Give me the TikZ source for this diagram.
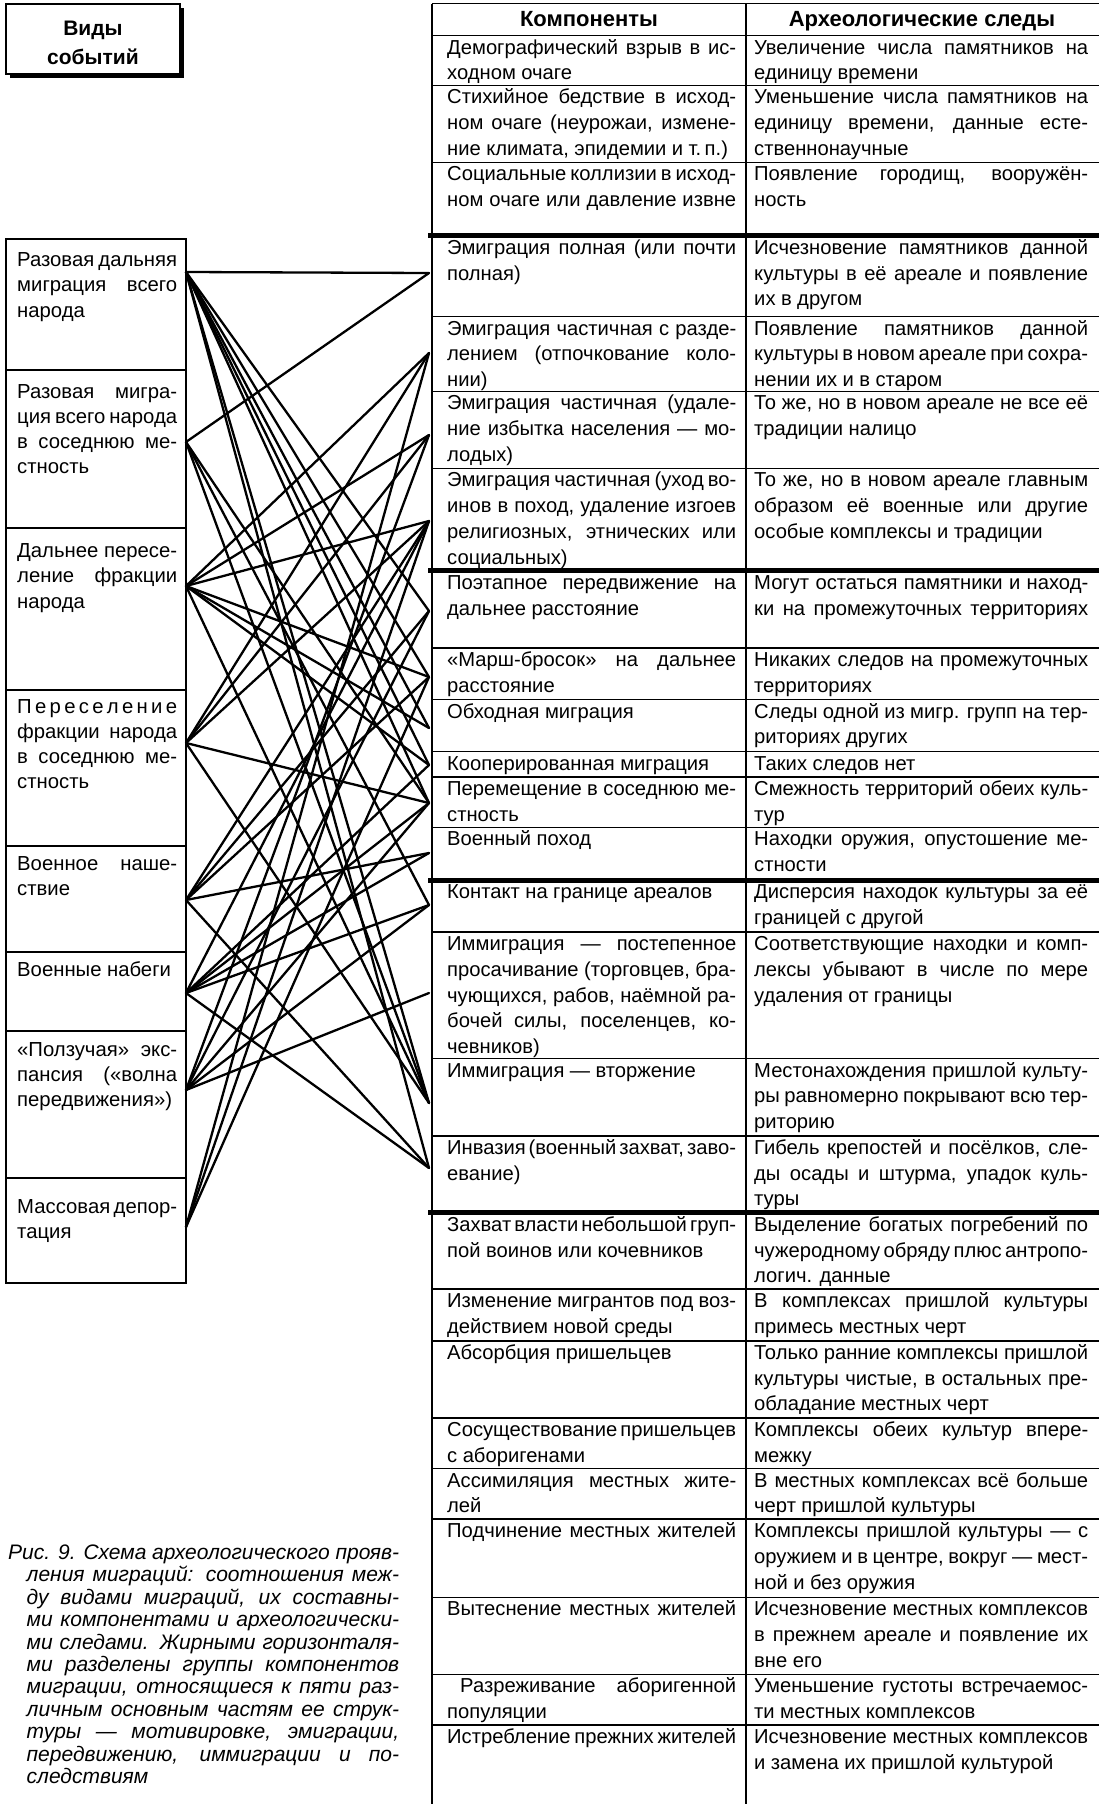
\documentclass[tikz,border=0pt]{standalone}
\usepackage{fontspec}
\setmainfont{Liberation Sans}
\usepackage{tikz}
\newcommand{\jl}[1]{\makebox[\linewidth][s]{#1}\\}
\newcommand{\fl}[1]{\makebox[\linewidth][s]{#1}}
\newcommand{\capl}[1]{\hspace*{18.5pt}\makebox[372.5pt][s]{#1}\\}
\newcommand{\kcell}[1]{\parbox[t]{289pt}{#1}}
\newcommand{\tcell}[1]{\parbox[t]{334pt}{#1}}
\newcommand{\vcell}[1]{\parbox[t]{160pt}{#1}}
\newcommand{\tightsp}{\spaceskip=.27em plus .6em minus .13em\relax}
\tikzset{
    vid box/.style={line width=1.3pt},
    vid text/.style={inner sep=0pt,anchor=base west,font=\fontsize{20.3}{25.3}\selectfont\tightsp},
    cell/.style={inner sep=0pt,anchor=base west,font=\fontsize{20.2}{25.7}\selectfont\tightsp},
    head/.style={inner sep=0pt,anchor=base,font=\fontsize{22}{26}\selectfont\bfseries},
    thin rule/.style={line width=1.4pt},
    thick rule/.style={line width=5pt},
    link/.style={line width=2.3pt,line cap=round}
}
\begin{document}
\begin{tikzpicture}[x=1pt,y=-1pt]
\useasboundingbox (0,0) rectangle (1099,1804);
% title box with shadow
\fill (10,8) rectangle (184,78);
\draw[fill=white,line width=1.5pt] (6,4) rectangle (180,74);
\node[inner sep=0pt,align=center,font=\fontsize{21}{28.5}\selectfont\bfseries] (vidy) at (93,43) {Виды\\событий};
% left boxes
\foreach \t/\b in {239/370,370/528,528/690,690/846,846/952,952/1031,1031/1178,1178/1283}
    \draw[vid box] (6,\t) rectangle (186,\b);
\node[vid text] (vid1) at (17,266.5) {\vcell{\jl{Разовая дальняя}\jl{миграция всего}народа}};
\node[vid text] (vid2) at (17,398) {\vcell{\jl{Разовая мигра-}\jl{ция всего народа}\jl{в соседнюю ме-}стность}};
\node[vid text] (vid3) at (17,557.5) {\vcell{\jl{Дальнее пересе-}\jl{ление фракции}народа}};
\node[vid text] (vid4) at (17,713) {\vcell{\jl{П\hfill е\hfill р\hfill е\hfill с\hfill е\hfill л\hfill е\hfill н\hfill и\hfill е}\jl{фракции народа}\jl{в соседнюю ме-}стность}};
\node[vid text] (vid5) at (17,870.5) {\vcell{\jl{Военное наше-}ствие}};
\node[vid text] (vid6) at (17,976.5) {\vcell{Военные набеги}};
\node[vid text] (vid7) at (17,1056) {\vcell{\jl{«Ползучая» экс-}\jl{пансия («волна}передвижения»)}};
\node[vid text] (vid8) at (17,1213.5) {\vcell{\jl{Массовая депор-}тация}};
% table rules
\foreach \y in {3.5,35.7,85.2,162.3,316.5,391.3,468.4,647.9,699.7,751.5,776.8,827.4,932.1,1058.7,1135.8,1288.9,1340.8,1417.9,1468.5,1519.1,1597.4,1674.4,1725.1}
    \draw[thin rule] (432,\y) -- (1099,\y);
\foreach \y in {235.9,570.8,880.4,1212.9}
    \draw[thick rule] (428,\y) -- (1099,\y);
\draw[thin rule] (432,3.5) -- (432,1804);
\draw[thin rule] (746,3.5) -- (746,1804);
\node[head] (komp) at (589,27) {Компоненты};
\node[head] (sledy) at (922,27) {Археологические следы};
% components and traces
\node[cell] (k1) at (447,54.2) {\kcell{\jl{Демографический взрыв в ис-}ходном очаге}};
\node[cell] (t1) at (754,54.2) {\tcell{\jl{Увеличение числа памятников на}единицу времени}};
\node[cell] (k2) at (447,103.7) {\kcell{\jl{Стихийное бедствие в исход-}\jl{ном очаге (неурожаи, измене-}ние климата, эпидемии и т.\,п.)}};
\node[cell] (t2) at (754,103.7) {\tcell{\jl{Уменьшение числа памятников на}\jl{единицу времени, данные есте-}ственнонаучные}};
\node[cell] (k3) at (447,180.8) {\kcell{\jl{Социальные коллизии в исход-}\fl{ном очаге или давление извне}}};
\node[cell] (t3) at (754,180.8) {\tcell{\jl{Появление городищ, вооружён-}ность}};
\node[cell] (k4) at (447,254.4) {\kcell{\jl{Эмиграция полная (или почти}полная)}};
\node[cell] (t4) at (754,254.4) {\tcell{\jl{Исчезновение памятников данной}\jl{культуры в её ареале и появление}их в другом}};
\node[cell] (k5) at (447,335.0) {\kcell{\jl{Эмиграция частичная с разде-}\jl{лением (отпочкование коло-}нии)}};
\node[cell] (t5) at (754,335.0) {\tcell{\jl{Появление памятников данной}\jl{культуры в новом ареале при сохра-}нении их и в старом}};
\node[cell] (k6) at (447,409.8) {\kcell{\jl{Эмиграция частичная (удале-}\jl{ние избытка населения — мо-}лодых)}};
\node[cell] (t6) at (754,409.8) {\tcell{\jl{То же, но в новом ареале не все её}традиции налицо}};
\node[cell] (k7) at (447,486.9) {\kcell{\jl{Эмиграция частичная (уход во-}\jl{инов в поход, удаление изгоев}\jl{религиозных, этнических или}социальных)}};
\node[cell] (t7) at (754,486.9) {\tcell{\jl{То же, но в новом ареале главным}\jl{образом её военные или другие}особые комплексы и традиции}};
\node[cell] (k8) at (447,589.3) {\kcell{\jl{Поэтапное передвижение на}дальнее расстояние}};
\node[cell] (t8) at (754,589.3) {\tcell{\jl{Могут остаться памятники и наход-}\fl{ки на промежуточных территориях}}};
\node[cell] (k9) at (447,666.4) {\kcell{\jl{«Марш-бросок» на дальнее}расстояние}};
\node[cell] (t9) at (754,666.4) {\tcell{\jl{Никаких следов на промежуточных}территориях}};
\node[cell] (k10) at (447,718.2) {\kcell{Обходная миграция}};
\node[cell] (t10) at (754,718.2) {\tcell{\jl{Следы одной из мигр. групп на тер-}риториях других}};
\node[cell] (k11) at (447,770.0) {\kcell{Кооперированная миграция}};
\node[cell] (t11) at (754,770.0) {\tcell{Таких следов нет}};
\node[cell] (k12) at (447,795.3) {\kcell{\jl{Перемещение в соседнюю ме-}стность}};
\node[cell] (t12) at (754,795.3) {\tcell{\jl{Смежность территорий обеих куль-}тур}};
\node[cell] (k13) at (447,845.9) {\kcell{Военный поход}};
\node[cell] (t13) at (754,845.9) {\tcell{\jl{Находки оружия, опустошение ме-}стности}};
\node[cell] (k14) at (447,898.9) {\kcell{Контакт на границе ареалов}};
\node[cell] (t14) at (754,898.9) {\tcell{\jl{Дисперсия находок культуры за её}границей с другой}};
\node[cell] (k15) at (447,950.6) {\kcell{\jl{Иммиграция — постепенное}\jl{просачивание (торговцев, бра-}\jl{чующихся, рабов, наёмной ра-}\jl{бочей силы, поселенцев, ко-}чевников)}};
\node[cell] (t15) at (754,950.6) {\tcell{\jl{Соответствующие находки и комп-}\jl{лексы убывают в числе по мере}удаления от границы}};
\node[cell] (k16) at (447,1077.2) {\kcell{Иммиграция — вторжение}};
\node[cell] (t16) at (754,1077.2) {\tcell{\jl{Местонахождения пришлой культу-}\jl{ры равномерно покрывают всю тер-}риторию}};
\node[cell] (k17) at (447,1154.3) {\kcell{\jl{Инвазия (военный захват, заво-}евание)}};
\node[cell] (t17) at (754,1154.3) {\tcell{\jl{Гибель крепостей и посёлков, сле-}\jl{ды осады и штурма, упадок куль-}туры}};
\node[cell] (k18) at (447,1231.4) {\kcell{\jl{Захват власти небольшой груп-}пой воинов или кочевников}};
\node[cell] (t18) at (754,1231.4) {\tcell{\jl{Выделение богатых погребений по}\jl{чужеродному обряду плюс антропо-}логич. данные}};
\node[cell] (k19) at (447,1307.4) {\kcell{\jl{Изменение мигрантов под воз-}действием новой среды}};
\node[cell] (t19) at (754,1307.4) {\tcell{\jl{В комплексах пришлой культуры}примесь местных черт}};
\node[cell] (k20) at (447,1359.3) {\kcell{Абсорбция пришельцев}};
\node[cell] (t20) at (754,1359.3) {\tcell{\jl{Только ранние комплексы пришлой}\jl{культуры чистые, в остальных пре-}обладание местных черт}};
\node[cell] (k21) at (447,1436.4) {\kcell{\jl{Сосуществование пришельцев}с аборигенами}};
\node[cell] (t21) at (754,1436.4) {\tcell{\jl{Комплексы обеих культур впере-}межку}};
\node[cell] (k22) at (447,1487.0) {\kcell{\jl{Ассимиляция местных жите-}лей}};
\node[cell] (t22) at (754,1487.0) {\tcell{\jl{В местных комплексах всё больше}черт пришлой культуры}};
\node[cell] (k23) at (447,1537.6) {\kcell{\fl{Подчинение местных жителей}}};
\node[cell] (t23) at (754,1537.6) {\tcell{\jl{Комплексы пришлой культуры — с}\jl{оружием и в центре, вокруг — мест-}ной и без оружия}};
\node[cell] (k24) at (447,1615.9) {\kcell{\fl{Вытеснение местных жителей}}};
\node[cell] (t24) at (754,1615.9) {\tcell{\jl{Исчезновение местных комплексов}\jl{в прежнем ареале и появление их}вне его}};
\node[cell] (k25) at (447,1692.9) {\kcell{\jl{\hspace*{13pt}Разреживание аборигенной}популяции}};
\node[cell] (t25) at (754,1692.9) {\tcell{\jl{Уменьшение густоты встречаемос-}ти местных комплексов}};
\node[cell] (k26) at (447,1743.6) {\kcell{\fl{Истребление прежних жителей}}};
\node[cell] (t26) at (754,1743.6) {\tcell{\jl{Исчезновение местных комплексов}и замена их пришлой культурой}};
% caption
\node[inner sep=0pt,anchor=base west,font=\fontsize{21}{22.4}\selectfont\itshape\tightsp] (caption) at (8,1559.5)
    {\parbox[t]{391pt}{\jl{Рис. 9. Схема археологического прояв-}\capl{ления миграций: соотношения меж-}\capl{ду видами миграций, их составны-}\capl{ми компонентами и археологически-}\capl{ми следами. Жирными горизонталя-}\capl{ми разделены группы компонентов}\capl{миграции, относящиеся к пяти раз-}\capl{личным основным частям ее струк-}\capl{туры — мотивировке, эмиграции,}\capl{передвижению, иммиграции и по-}\hspace*{18.5pt}следствиям}};
% link ends
\foreach \i/\y in {1/272,2/442,3/586,4/743,5/900,6/993,7/1090,8/1227}
    \coordinate (s\i) at (186,\y);
\foreach \i/\y in {4/273,5/353,6/435,7/521,8/611,9/677,10/728,11/765,12/803,13/853,14/905,15/993,16/1103,17/1168}
    \coordinate (c\i) at (429,\y);
% links
\foreach \a/\b in {1/4,1/8,1/9,1/10,1/11,1/12,1/16,1/17,
                   2/4,2/12,2/14,2/16,
                   3/5,3/6,3/7,3/9,3/10,3/11,3/16,
                   4/5,4/6,4/7,4/12,4/16,
                   5/7,5/8,5/9,5/13,5/17,
                   6/7,6/11,6/12,6/13,6/14,6/17,
                   7/6,7/8,7/12,7/14,7/15,
                   8/5,8/7,8/9}
    \draw[link] (s\a) -- (c\b);
\end{tikzpicture}
\end{document}
